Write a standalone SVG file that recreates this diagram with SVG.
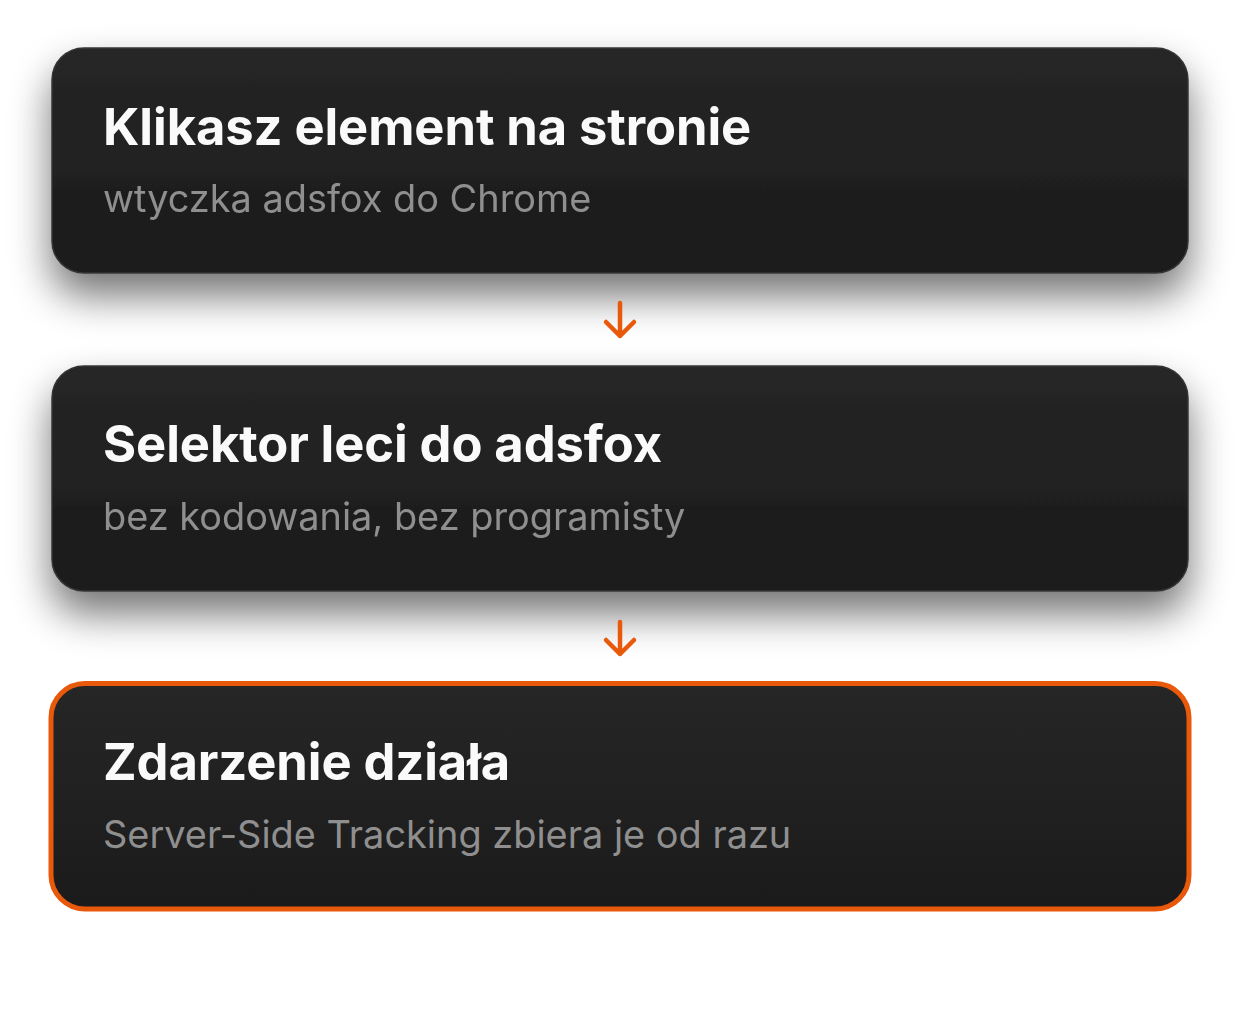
<svg xmlns="http://www.w3.org/2000/svg" width="1240" height="1010" viewBox="0 0 1240 1010">
<defs>
<linearGradient id="g" x1="0" y1="0" x2="0" y2="1">
<stop offset="0" stop-color="#262626"/>
<stop offset="1" stop-color="#1b1b1b"/>
</linearGradient>
<filter id="sh" x="-10%" y="-30%" width="120%" height="190%">
<feGaussianBlur in="SourceAlpha" stdDeviation="20"/>
<feOffset dy="22"/>
<feComponentTransfer><feFuncA type="linear" slope="0.55"/></feComponentTransfer>
<feMerge><feMergeNode/><feMergeNode in="SourceGraphic"/></feMerge>
</filter>
</defs>
<style>
.box{fill:url(#g);stroke:#343434;stroke-width:1.5}
.hl{fill:url(#g);stroke:#E8590C;stroke-width:5}
.t{font-family:Inter,"Noto Sans",sans-serif;font-weight:700;font-size:50.7px;fill:#fafafa;letter-spacing:-0.1px}
.s{font-family:Inter,"Noto Sans",sans-serif;font-weight:400;font-size:37.9px;fill:#8f8f8f}
.ar{fill:none;stroke:#E8590C;stroke-width:4.5;stroke-linecap:round;stroke-linejoin:round}
</style>
<rect width="1240" height="1010" fill="#ffffff"/>
<g id="node1" filter="url(#sh)">
<rect class="box" x="52" y="48" width="1136" height="225" rx="32"/>
<text class="t" x="103" y="145">Klikasz element na stronie</text>
<text class="s" x="103" y="212">wtyczka adsfox do Chrome</text>
</g>
<g id="node2" filter="url(#sh)">
<rect class="box" x="52" y="366" width="1136" height="225" rx="32"/>
<text class="t" x="103" y="462">Selektor leci do adsfox</text>
<text class="s" x="103" y="530">bez kodowania, bez programisty</text>
</g>
<g id="node3">
<rect class="hl" x="51" y="683.5" width="1138" height="225.5" rx="34"/>
<text class="t" x="103" y="780">Zdarzenie działa</text>
<text class="s" x="103" y="848">Server-Side Tracking zbiera je od razu</text>
</g>
<g id="connectors">
<path class="ar" d="M620 303 V336 M606 322 L620 336 L634 322"/>
<path class="ar" d="M620 622 V654 M606 640 L620 654 L634 640"/>
</g>
</svg>
